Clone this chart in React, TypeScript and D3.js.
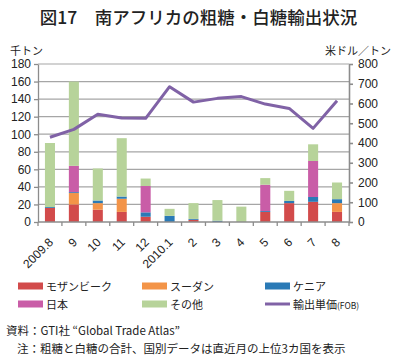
import React, { useEffect, useRef } from "react";
import * as d3 from "d3";

// 月ラベル
const months = ["2009.8", "9", "10", "11", "12", "2010.1", "2", "3", "4", "5", "6", "7", "8"];

// 千トン
const mozambique = [16, 20, 14, 11.5, 6, 0, 2.5, 0, 0, 11.5, 21.5, 23, 11.5];
const sudan = [0, 13, 7.5, 15, 0, 0, 0, 0, 0, 0, 0, 0, 10];
const kenya = [1, 1, 3, 2.5, 5, 7, 1, 1.5, 0, 1, 2.5, 5.5, 4.5];
const japan = [0, 30, 0, 0, 30, 0, 0, 0, 0, 30, 0, 41, 0];
const other = [73, 96, 36.5, 66.5, 8.5, 8, 18, 23.5, 17.5, 7.5, 11.5, 19, 19];

// 米ドル／トン
const price = [429, 469, 546, 527, 525, 685, 607, 626, 635, 597, 575, 474, 614];

const leftTicks = [0, 20, 40, 60, 80, 100, 120, 140, 160, 180];
const rightTicks = [0, 100, 200, 300, 400, 500, 600, 700, 800];

const seriesNames = ["モザンビーク", "スーダン", "ケニア", "日本", "その他"];
const seriesData = [mozambique, sudan, kenya, japan, other];
const colors = ["#D24B4B", "#F39448", "#2A7AB6", "#C95DA7", "#B7D39A"];
const lineColor = "#8062A6";

const FONT = "'Noto Sans CJK JP', 'Noto Sans', sans-serif";

const App = () => {
  const ref = useRef<SVGSVGElement>(null);

  useEffect(() => {
    const width = 397;
    const height = 361;
    const marginLeft = 38;
    const marginRight = 48;
    const marginTop = 64;
    const plotBottom = 222;

    const svg = d3.select(ref.current);
    svg.selectAll("*").remove();

    const x = d3
      .scaleBand()
      .domain(months)
      .range([marginLeft, width - marginRight])
      .paddingInner(0.58)
      .paddingOuter(0.29);

    const yL = d3.scaleLinear().domain([0, 180]).range([plotBottom, marginTop]);
    const yR = d3.scaleLinear().domain([0, 800]).range([plotBottom, marginTop]);

    // title
    svg
      .append("text")
      .attr("x", width / 2)
      .attr("y", 24)
      .attr("text-anchor", "middle")
      .attr("font-size", 17.5)
      .attr("font-weight", 500)
      .attr("fill", "#222")
      .text("図17　南アフリカの粗糖・白糖輸出状況");

    svg
      .append("text")
      .attr("x", 10)
      .attr("y", 55)
      .attr("font-size", 11)
      .attr("fill", "#222")
      .text("千トン");

    svg
      .append("text")
      .attr("x", 391)
      .attr("y", 55)
      .attr("text-anchor", "end")
      .attr("font-size", 11)
      .attr("fill", "#222")
      .text("米ドル／トン");

    // gridlines
    svg
      .append("g")
      .selectAll("line")
      .data(leftTicks.slice(1))
      .join("line")
      .attr("x1", marginLeft)
      .attr("x2", width - marginRight)
      .attr("y1", (d) => yL(d))
      .attr("y2", (d) => yL(d))
      .attr("stroke", "#A6A6A6")
      .attr("stroke-width", 1.2);

    // stacked bars
    const rows = months.map((m, i) => {
      const r: any = { month: m };
      seriesNames.forEach((s, j) => (r[s] = seriesData[j][i]));
      return r;
    });
    const stack = d3.stack().keys(seriesNames)(rows);

    svg
      .append("g")
      .selectAll("g")
      .data(stack)
      .join("g")
      .attr("fill", (d, i) => colors[i])
      .selectAll("rect")
      .data((d) => d)
      .join("rect")
      .attr("x", (d: any) => x(d.data.month))
      .attr("width", x.bandwidth())
      .attr("y", (d) => yL(d[1]))
      .attr("height", (d) => yL(d[0]) - yL(d[1]));

    // axes
    svg
      .append("g")
      .attr("transform", `translate(${marginLeft},0)`)
      .call(d3.axisLeft(yL).tickValues(leftTicks).tickSize(4).tickSizeOuter(0))
      .call((g) => g.selectAll("line,path").attr("stroke", "#8C8C8C").attr("stroke-width", 1.3))
      .call((g) =>
        g
          .selectAll("text")
          .attr("font-size", 12)
          .attr("font-family", "'Liberation Sans', Arial, sans-serif")
          .attr("fill", "#222")
          .attr("x", -7)
      );

    svg
      .append("g")
      .attr("transform", `translate(${width - marginRight},0)`)
      .call(d3.axisRight(yR).tickValues(rightTicks).tickSize(4).tickSizeOuter(0))
      .call((g) => g.selectAll("line,path").attr("stroke", "#8C8C8C").attr("stroke-width", 1.6))
      .call((g) =>
        g
          .selectAll("text")
          .attr("font-size", 12)
          .attr("font-family", "'Liberation Sans', Arial, sans-serif")
          .attr("fill", "#222")
          .attr("x", 9)
      );

    const step = x.step();
    const xAxis = svg.append("g");
    xAxis
      .append("line")
      .attr("x1", marginLeft)
      .attr("x2", width - marginRight)
      .attr("y1", plotBottom)
      .attr("y2", plotBottom)
      .attr("stroke", "#8C8C8C")
      .attr("stroke-width", 1.3);
    xAxis
      .selectAll("line.tick")
      .data(d3.range(months.length + 1))
      .join("line")
      .attr("class", "tick")
      .attr("x1", (i) => marginLeft + i * step)
      .attr("x2", (i) => marginLeft + i * step)
      .attr("y1", plotBottom)
      .attr("y2", plotBottom + 4)
      .attr("stroke", "#8C8C8C")
      .attr("stroke-width", 1.3);
    xAxis
      .selectAll("text")
      .data(months)
      .join("text")
      .attr("transform", (d) => `translate(${x(d)! + x.bandwidth() / 2 + 4},${plotBottom + 21}) rotate(-45)`)
      .attr("text-anchor", "end")
      .attr("font-size", 12)
      .attr("font-family", "'Liberation Sans', Arial, sans-serif")
      .attr("fill", "#222")
      .text((d) => d);

    // price line
    const line = d3
      .line<number>()
      .x((d, i) => x(months[i])! + x.bandwidth() / 2)
      .y((d) => yR(d));
    svg
      .append("path")
      .datum(price)
      .attr("d", line)
      .attr("fill", "none")
      .attr("stroke", lineColor)
      .attr("stroke-width", 3)
      .attr("stroke-linejoin", "round");

    // legend
    const legendX = [18, 142, 265];
    const legendY = [286, 304];
    const items = seriesNames.map((n, i) => ({ name: n, color: colors[i], kind: "rect" }));
    items.push({ name: "輸出単価", color: lineColor, kind: "line" });
    const lg = svg
      .append("g")
      .selectAll("g")
      .data(items)
      .join("g")
      .attr("transform", (d, i) => `translate(${legendX[i % 3]},${legendY[Math.floor(i / 3)]})`);
    lg.filter((d) => d.kind === "rect")
      .append("rect")
      .attr("x", 0)
      .attr("y", -3.5)
      .attr("width", 25)
      .attr("height", 7)
      .attr("fill", (d) => d.color);
    lg.filter((d) => d.kind === "line")
      .append("line")
      .attr("x1", 0)
      .attr("x2", 25)
      .attr("y1", 0)
      .attr("y2", 0)
      .attr("stroke", (d) => d.color)
      .attr("stroke-width", 3);
    const lt = lg
      .append("text")
      .attr("x", 28)
      .attr("y", 4.5)
      .attr("font-size", 11)
      .attr("fill", "#222")
      .text((d) => d.name);
    lt.filter((d) => d.kind === "line")
      .append("tspan")
      .attr("font-size", 8.5)
      .text("(FOB)");

    // notes
    svg
      .append("text")
      .attr("x", 6)
      .attr("y", 335)
      .attr("font-size", 11.5)
      .attr("fill", "#222")
      .text("資料：GTI社 “Global Trade Atlas”");
    svg
      .append("text")
      .attr("x", 17)
      .attr("y", 353)
      .attr("font-size", 11.5)
      .attr("fill", "#222")
      .text("注：粗糖と白糖の合計、国別データは直近月の上位3カ国を表示");
  }, []);

  return (
    <svg
      ref={ref}
      width={397}
      height={361}
      style={{ position: "absolute", left: 0, top: 0, background: "#fff", fontFamily: FONT }}
      fontFamily={FONT}
    />
  );
};

export default App;
